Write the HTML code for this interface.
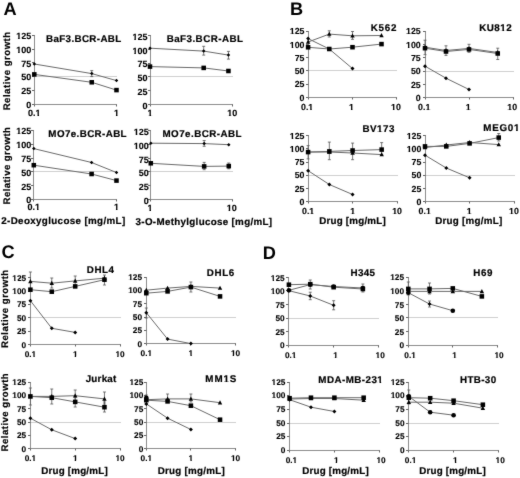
<!DOCTYPE html>
<html><head><meta charset="utf-8"><style>
html,body{margin:0;padding:0;background:#fff;}
body{width:520px;height:478px;overflow:hidden;}
svg{display:block;font-family:"Liberation Sans", sans-serif;will-change:transform;text-rendering:geometricPrecision;}
</style></head><body>
<svg width="520" height="478" viewBox="0 0 520 478">
<defs><filter id="bl" color-interpolation-filters="sRGB" x="0" y="0" width="520" height="478" filterUnits="userSpaceOnUse"><feConvolveMatrix order="3" kernelMatrix="0.015 0.06 0.015 0.06 0.70 0.06 0.015 0.06 0.015" divisor="1" edgeMode="duplicate"/></filter></defs>
<rect width="520" height="478" fill="#fff"/>
<g filter="url(#bl)">
<rect width="520" height="478" fill="#fff"/>
<line x1="34.50" y1="76.50" x2="117.00" y2="76.50" stroke="#cfcfcf" stroke-width="1"/>
<path d="M34.50 35.00V104.50H117.00" fill="none" stroke="#8c8c8c" stroke-width="1"/>
<line x1="32.00" y1="104.50" x2="34.50" y2="104.50" stroke="#666" stroke-width="1"/>
<text x="26.19" y="108.04" font-size="9.0" font-weight="bold" fill="#000" stroke="#000" stroke-width="0.12">0</text>
<line x1="32.00" y1="90.50" x2="34.50" y2="90.50" stroke="#666" stroke-width="1"/>
<text x="21.19 26.19" y="94.24" font-size="9.0" font-weight="bold" fill="#000" stroke="#000" stroke-width="0.12">25</text>
<line x1="32.00" y1="76.50" x2="34.50" y2="76.50" stroke="#666" stroke-width="1"/>
<text x="21.19 26.19" y="80.44" font-size="9.0" font-weight="bold" fill="#000" stroke="#000" stroke-width="0.12">50</text>
<line x1="32.00" y1="62.50" x2="34.50" y2="62.50" stroke="#666" stroke-width="1"/>
<text x="21.19 26.19" y="66.64" font-size="9.0" font-weight="bold" fill="#000" stroke="#000" stroke-width="0.12">75</text>
<line x1="32.00" y1="49.50" x2="34.50" y2="49.50" stroke="#666" stroke-width="1"/>
<text x="16.18 21.19 26.19" y="52.84" font-size="9.0" font-weight="bold" fill="#000" stroke="#000" stroke-width="0.12">100</text>
<line x1="32.00" y1="35.50" x2="34.50" y2="35.50" stroke="#666" stroke-width="1"/>
<text x="16.18 21.19 26.19" y="39.04" font-size="9.0" font-weight="bold" fill="#000" stroke="#000" stroke-width="0.12">125</text>
<line x1="34.50" y1="104.50" x2="34.50" y2="106.50" stroke="#666" stroke-width="1"/>
<text x="28.04 33.05 35.55" y="115.80" font-size="9.0" font-weight="bold" fill="#000" stroke="#000" stroke-width="0.12">0.1</text>
<line x1="116.50" y1="104.50" x2="116.50" y2="106.50" stroke="#666" stroke-width="1"/>
<text x="114.00" y="115.80" font-size="9.0" font-weight="bold" fill="#000" stroke="#000" stroke-width="0.12">1</text>
<path d="M34.30 64.00L91.76 73.60L116.50 80.60" fill="none" stroke="#6a6a6a" stroke-width="1"/>
<path d="M34.30 74.40L91.76 82.30L116.50 90.10" fill="none" stroke="#6a6a6a" stroke-width="1"/>
<path d="M91.76 70.60V76.60M90.26 70.60H93.26M90.26 76.60H93.26" fill="none" stroke="#555" stroke-width="0.8"/>
<path d="M34.30 62.24L36.06 64.00L34.30 65.76L32.54 64.00Z" fill="#000"/>
<path d="M91.76 71.84L93.52 73.60L91.76 75.36L90.00 73.60Z" fill="#000"/>
<path d="M116.50 78.84L118.26 80.60L116.50 82.36L114.74 80.60Z" fill="#000"/>
<rect x="32.03" y="72.13" width="4.53" height="4.53" fill="#000"/>
<rect x="89.49" y="80.03" width="4.53" height="4.53" fill="#000"/>
<rect x="114.23" y="87.83" width="4.53" height="4.53" fill="#000"/>
<text x="45.94 53.39 59.21 65.56 71.38 74.47 81.91 89.35 96.80 100.43 107.87 115.32" y="41.70" font-size="9.8" font-weight="bold" fill="#000" stroke="#000" stroke-width="0.2">BaF3.BCR-ABL</text>
<line x1="150.50" y1="76.50" x2="233.00" y2="76.50" stroke="#cfcfcf" stroke-width="1"/>
<path d="M150.50 35.00V104.50H233.00" fill="none" stroke="#8c8c8c" stroke-width="1"/>
<line x1="148.00" y1="104.50" x2="150.50" y2="104.50" stroke="#666" stroke-width="1"/>
<text x="142.39" y="108.84" font-size="9.0" font-weight="bold" fill="#000" stroke="#000" stroke-width="0.12">0</text>
<line x1="148.00" y1="90.50" x2="150.50" y2="90.50" stroke="#666" stroke-width="1"/>
<text x="137.39 142.39" y="95.04" font-size="9.0" font-weight="bold" fill="#000" stroke="#000" stroke-width="0.12">25</text>
<line x1="148.00" y1="76.50" x2="150.50" y2="76.50" stroke="#666" stroke-width="1"/>
<text x="137.39 142.39" y="81.24" font-size="9.0" font-weight="bold" fill="#000" stroke="#000" stroke-width="0.12">50</text>
<line x1="148.00" y1="63.50" x2="150.50" y2="63.50" stroke="#666" stroke-width="1"/>
<text x="137.39 142.39" y="67.44" font-size="9.0" font-weight="bold" fill="#000" stroke="#000" stroke-width="0.12">75</text>
<line x1="148.00" y1="49.50" x2="150.50" y2="49.50" stroke="#666" stroke-width="1"/>
<text x="132.38 137.39 142.39" y="53.64" font-size="9.0" font-weight="bold" fill="#000" stroke="#000" stroke-width="0.12">100</text>
<line x1="148.00" y1="35.50" x2="150.50" y2="35.50" stroke="#666" stroke-width="1"/>
<text x="132.38 137.39 142.39" y="39.84" font-size="9.0" font-weight="bold" fill="#000" stroke="#000" stroke-width="0.12">125</text>
<line x1="150.50" y1="104.50" x2="150.50" y2="106.50" stroke="#666" stroke-width="1"/>
<text x="147.50" y="116.10" font-size="9.0" font-weight="bold" fill="#000" stroke="#000" stroke-width="0.12">1</text>
<line x1="232.50" y1="104.50" x2="232.50" y2="106.50" stroke="#666" stroke-width="1"/>
<text x="227.19 232.20" y="116.10" font-size="9.0" font-weight="bold" fill="#000" stroke="#000" stroke-width="0.12">10</text>
<path d="M150.00 48.20L203.69 51.10L228.44 55.10" fill="none" stroke="#6a6a6a" stroke-width="1"/>
<path d="M150.00 66.60L203.69 67.90L228.44 71.00" fill="none" stroke="#6a6a6a" stroke-width="1"/>
<path d="M203.69 46.30V55.10M202.19 46.30H205.19M202.19 55.10H205.19" fill="none" stroke="#555" stroke-width="0.8"/>
<path d="M228.44 51.40V59.10M226.94 51.40H229.94M226.94 59.10H229.94" fill="none" stroke="#555" stroke-width="0.8"/>
<path d="M150.00 46.44L151.76 48.20L150.00 49.96L148.24 48.20Z" fill="#000"/>
<path d="M203.69 49.34L205.45 51.10L203.69 52.86L201.93 51.10Z" fill="#000"/>
<path d="M228.44 53.34L230.20 55.10L228.44 56.86L226.68 55.10Z" fill="#000"/>
<rect x="147.73" y="64.33" width="4.53" height="4.53" fill="#000"/>
<rect x="201.43" y="65.63" width="4.53" height="4.53" fill="#000"/>
<rect x="226.17" y="68.73" width="4.53" height="4.53" fill="#000"/>
<text x="166.64 174.18 180.09 186.53 192.44 195.62 203.15 210.69 218.22 221.95 229.48 237.02" y="41.80" font-size="9.8" font-weight="bold" fill="#000" stroke="#000" stroke-width="0.2">BaF3.BCR-ABL</text>
<line x1="33.50" y1="171.50" x2="117.00" y2="171.50" stroke="#cfcfcf" stroke-width="1"/>
<path d="M33.50 130.00V199.50H117.00" fill="none" stroke="#8c8c8c" stroke-width="1"/>
<line x1="31.00" y1="199.50" x2="33.50" y2="199.50" stroke="#666" stroke-width="1"/>
<text x="26.19" y="203.34" font-size="9.0" font-weight="bold" fill="#000" stroke="#000" stroke-width="0.12">0</text>
<line x1="31.00" y1="185.50" x2="33.50" y2="185.50" stroke="#666" stroke-width="1"/>
<text x="21.19 26.19" y="189.52" font-size="9.0" font-weight="bold" fill="#000" stroke="#000" stroke-width="0.12">25</text>
<line x1="31.00" y1="171.50" x2="33.50" y2="171.50" stroke="#666" stroke-width="1"/>
<text x="21.19 26.19" y="175.70" font-size="9.0" font-weight="bold" fill="#000" stroke="#000" stroke-width="0.12">50</text>
<line x1="31.00" y1="158.50" x2="33.50" y2="158.50" stroke="#666" stroke-width="1"/>
<text x="21.19 26.19" y="161.88" font-size="9.0" font-weight="bold" fill="#000" stroke="#000" stroke-width="0.12">75</text>
<line x1="31.00" y1="144.50" x2="33.50" y2="144.50" stroke="#666" stroke-width="1"/>
<text x="16.18 21.19 26.19" y="148.06" font-size="9.0" font-weight="bold" fill="#000" stroke="#000" stroke-width="0.12">100</text>
<line x1="31.00" y1="130.50" x2="33.50" y2="130.50" stroke="#666" stroke-width="1"/>
<text x="16.18 21.19 26.19" y="134.24" font-size="9.0" font-weight="bold" fill="#000" stroke="#000" stroke-width="0.12">125</text>
<line x1="33.50" y1="199.50" x2="33.50" y2="201.50" stroke="#666" stroke-width="1"/>
<text x="27.54 32.55 35.05" y="209.80" font-size="9.0" font-weight="bold" fill="#000" stroke="#000" stroke-width="0.12">0.1</text>
<line x1="116.50" y1="199.50" x2="116.50" y2="201.50" stroke="#666" stroke-width="1"/>
<text x="114.00" y="209.80" font-size="9.0" font-weight="bold" fill="#000" stroke="#000" stroke-width="0.12">1</text>
<path d="M33.80 148.60L91.60 162.50L116.50 172.50" fill="none" stroke="#6a6a6a" stroke-width="1"/>
<path d="M33.80 165.20L91.60 174.00L116.50 180.60" fill="none" stroke="#6a6a6a" stroke-width="1"/>
<path d="M33.80 146.84L35.56 148.60L33.80 150.36L32.04 148.60Z" fill="#000"/>
<path d="M91.60 160.74L93.36 162.50L91.60 164.26L89.84 162.50Z" fill="#000"/>
<path d="M116.50 170.74L118.26 172.50L116.50 174.26L114.74 172.50Z" fill="#000"/>
<rect x="31.53" y="162.93" width="4.53" height="4.53" fill="#000"/>
<rect x="89.34" y="171.73" width="4.53" height="4.53" fill="#000"/>
<rect x="114.23" y="178.33" width="4.53" height="4.53" fill="#000"/>
<text x="48.34 56.89 64.90 70.73 76.56 79.67 87.13 94.59 102.05 105.70 113.16 120.62" y="136.90" font-size="9.8" font-weight="bold" fill="#000" stroke="#000" stroke-width="0.2">MO7e.BCR-ABL</text>
<line x1="150.50" y1="171.50" x2="233.00" y2="171.50" stroke="#cfcfcf" stroke-width="1"/>
<path d="M150.50 130.00V199.50H233.00" fill="none" stroke="#8c8c8c" stroke-width="1"/>
<line x1="148.00" y1="199.50" x2="150.50" y2="199.50" stroke="#666" stroke-width="1"/>
<text x="143.79" y="204.14" font-size="9.0" font-weight="bold" fill="#000" stroke="#000" stroke-width="0.12">0</text>
<line x1="148.00" y1="185.50" x2="150.50" y2="185.50" stroke="#666" stroke-width="1"/>
<text x="138.79 143.79" y="190.30" font-size="9.0" font-weight="bold" fill="#000" stroke="#000" stroke-width="0.12">25</text>
<line x1="148.00" y1="171.50" x2="150.50" y2="171.50" stroke="#666" stroke-width="1"/>
<text x="138.79 143.79" y="176.46" font-size="9.0" font-weight="bold" fill="#000" stroke="#000" stroke-width="0.12">50</text>
<line x1="148.00" y1="158.50" x2="150.50" y2="158.50" stroke="#666" stroke-width="1"/>
<text x="138.79 143.79" y="162.62" font-size="9.0" font-weight="bold" fill="#000" stroke="#000" stroke-width="0.12">75</text>
<line x1="148.00" y1="144.50" x2="150.50" y2="144.50" stroke="#666" stroke-width="1"/>
<text x="133.78 138.79 143.79" y="148.78" font-size="9.0" font-weight="bold" fill="#000" stroke="#000" stroke-width="0.12">100</text>
<line x1="148.00" y1="130.50" x2="150.50" y2="130.50" stroke="#666" stroke-width="1"/>
<text x="133.78 138.79 143.79" y="134.94" font-size="9.0" font-weight="bold" fill="#000" stroke="#000" stroke-width="0.12">125</text>
<line x1="150.50" y1="199.50" x2="150.50" y2="201.50" stroke="#666" stroke-width="1"/>
<text x="147.50" y="210.60" font-size="9.0" font-weight="bold" fill="#000" stroke="#000" stroke-width="0.12">1</text>
<line x1="232.50" y1="199.50" x2="232.50" y2="201.50" stroke="#666" stroke-width="1"/>
<text x="226.69 231.70" y="210.60" font-size="9.0" font-weight="bold" fill="#000" stroke="#000" stroke-width="0.12">10</text>
<path d="M150.80 143.20L204.17 143.60L228.76 144.70" fill="none" stroke="#6a6a6a" stroke-width="1"/>
<path d="M150.80 163.30L204.17 166.40L228.76 166.10" fill="none" stroke="#6a6a6a" stroke-width="1"/>
<path d="M204.17 140.50V146.30M202.67 140.50H205.67M202.67 146.30H205.67" fill="none" stroke="#555" stroke-width="0.8"/>
<path d="M204.17 162.40V169.70M202.67 162.40H205.67M202.67 169.70H205.67" fill="none" stroke="#555" stroke-width="0.8"/>
<path d="M228.76 163.00V168.80M227.26 163.00H230.26M227.26 168.80H230.26" fill="none" stroke="#555" stroke-width="0.8"/>
<path d="M150.80 141.44L152.56 143.20L150.80 144.96L149.04 143.20Z" fill="#000"/>
<path d="M204.17 141.84L205.93 143.60L204.17 145.36L202.41 143.60Z" fill="#000"/>
<path d="M228.76 142.94L230.52 144.70L228.76 146.46L227.00 144.70Z" fill="#000"/>
<rect x="148.53" y="161.03" width="4.53" height="4.53" fill="#000"/>
<rect x="201.90" y="164.13" width="4.53" height="4.53" fill="#000"/>
<rect x="226.50" y="163.83" width="4.53" height="4.53" fill="#000"/>
<text x="162.44 171.06 179.14 185.05 190.95 194.13 201.66 209.20 216.73 220.45 227.98 235.52" y="137.10" font-size="9.8" font-weight="bold" fill="#000" stroke="#000" stroke-width="0.2">MO7e.BCR-ABL</text>
<line x1="308.50" y1="70.50" x2="397.00" y2="70.50" stroke="#cfcfcf" stroke-width="1"/>
<path d="M308.50 31.00V97.50H397.00" fill="none" stroke="#8c8c8c" stroke-width="1"/>
<line x1="306.00" y1="97.50" x2="308.50" y2="97.50" stroke="#666" stroke-width="1"/>
<text x="299.61" y="100.67" font-size="8.8" font-weight="bold" fill="#000" stroke="#000" stroke-width="0.12">0</text>
<line x1="306.00" y1="84.50" x2="308.50" y2="84.50" stroke="#666" stroke-width="1"/>
<text x="294.71 299.61" y="87.39" font-size="8.8" font-weight="bold" fill="#000" stroke="#000" stroke-width="0.12">25</text>
<line x1="306.00" y1="70.50" x2="308.50" y2="70.50" stroke="#666" stroke-width="1"/>
<text x="294.71 299.61" y="74.11" font-size="8.8" font-weight="bold" fill="#000" stroke="#000" stroke-width="0.12">50</text>
<line x1="306.00" y1="57.50" x2="308.50" y2="57.50" stroke="#666" stroke-width="1"/>
<text x="294.71 299.61" y="60.83" font-size="8.8" font-weight="bold" fill="#000" stroke="#000" stroke-width="0.12">75</text>
<line x1="306.00" y1="44.50" x2="308.50" y2="44.50" stroke="#666" stroke-width="1"/>
<text x="289.82 294.71 299.61" y="47.55" font-size="8.8" font-weight="bold" fill="#000" stroke="#000" stroke-width="0.12">100</text>
<line x1="306.00" y1="31.50" x2="308.50" y2="31.50" stroke="#666" stroke-width="1"/>
<text x="289.82 294.71 299.61" y="34.27" font-size="8.8" font-weight="bold" fill="#000" stroke="#000" stroke-width="0.12">125</text>
<line x1="308.50" y1="97.50" x2="308.50" y2="99.50" stroke="#666" stroke-width="1"/>
<text x="300.98 305.88 308.32" y="109.90" font-size="8.8" font-weight="bold" fill="#000" stroke="#000" stroke-width="0.12">0.1</text>
<line x1="352.50" y1="97.50" x2="352.50" y2="99.50" stroke="#666" stroke-width="1"/>
<text x="349.05" y="109.90" font-size="8.8" font-weight="bold" fill="#000" stroke="#000" stroke-width="0.12">1</text>
<line x1="396.50" y1="97.50" x2="396.50" y2="99.50" stroke="#666" stroke-width="1"/>
<text x="391.01 395.90" y="109.90" font-size="8.8" font-weight="bold" fill="#000" stroke="#000" stroke-width="0.12">10</text>
<path d="M308.10 38.60L329.28 49.00L352.50 68.60" fill="none" stroke="#6a6a6a" stroke-width="1"/>
<path d="M308.10 42.00L329.28 34.10L352.50 35.80L381.50 35.50" fill="none" stroke="#6a6a6a" stroke-width="1"/>
<path d="M308.10 47.30L329.28 49.00L352.50 47.20L381.50 44.10" fill="none" stroke="#6a6a6a" stroke-width="1"/>
<path d="M329.28 30.80V37.00M327.78 30.80H330.78M327.78 37.00H330.78" fill="none" stroke="#555" stroke-width="0.8"/>
<path d="M352.50 31.50V39.30M351.00 31.50H354.00M351.00 39.30H354.00" fill="none" stroke="#555" stroke-width="0.8"/>
<path d="M308.10 36.62L310.08 38.60L308.10 40.58L306.12 38.60Z" fill="#000"/>
<path d="M329.28 47.02L331.26 49.00L329.28 50.98L327.30 49.00Z" fill="#000"/>
<path d="M352.50 66.62L354.48 68.60L352.50 70.58L350.52 68.60Z" fill="#000"/>
<path d="M308.10 39.58L310.30 43.76L305.90 43.76Z" fill="#000"/>
<path d="M329.28 31.68L331.48 35.86L327.08 35.86Z" fill="#000"/>
<path d="M352.50 33.38L354.70 37.56L350.30 37.56Z" fill="#000"/>
<path d="M381.50 33.08L383.70 37.26L379.30 37.26Z" fill="#000"/>
<rect x="305.83" y="45.03" width="4.53" height="4.53" fill="#000"/>
<rect x="327.02" y="46.73" width="4.53" height="4.53" fill="#000"/>
<rect x="350.23" y="44.93" width="4.53" height="4.53" fill="#000"/>
<rect x="379.24" y="41.83" width="4.53" height="4.53" fill="#000"/>
<text x="370.64 378.49 384.72 390.94" y="31.10" font-size="9.8" font-weight="bold" fill="#000" stroke="#000" stroke-width="0.2">K562</text>
<line x1="425.50" y1="71.50" x2="514.00" y2="71.50" stroke="#cfcfcf" stroke-width="1"/>
<path d="M425.50 31.00V97.50H514.00" fill="none" stroke="#8c8c8c" stroke-width="1"/>
<line x1="423.00" y1="97.50" x2="425.50" y2="97.50" stroke="#666" stroke-width="1"/>
<text x="415.81" y="101.07" font-size="8.8" font-weight="bold" fill="#000" stroke="#000" stroke-width="0.12">0</text>
<line x1="423.00" y1="84.50" x2="425.50" y2="84.50" stroke="#666" stroke-width="1"/>
<text x="410.91 415.81" y="87.75" font-size="8.8" font-weight="bold" fill="#000" stroke="#000" stroke-width="0.12">25</text>
<line x1="423.00" y1="71.50" x2="425.50" y2="71.50" stroke="#666" stroke-width="1"/>
<text x="410.91 415.81" y="74.43" font-size="8.8" font-weight="bold" fill="#000" stroke="#000" stroke-width="0.12">50</text>
<line x1="423.00" y1="57.50" x2="425.50" y2="57.50" stroke="#666" stroke-width="1"/>
<text x="410.91 415.81" y="61.11" font-size="8.8" font-weight="bold" fill="#000" stroke="#000" stroke-width="0.12">75</text>
<line x1="423.00" y1="44.50" x2="425.50" y2="44.50" stroke="#666" stroke-width="1"/>
<text x="406.02 410.91 415.81" y="47.79" font-size="8.8" font-weight="bold" fill="#000" stroke="#000" stroke-width="0.12">100</text>
<line x1="423.00" y1="31.50" x2="425.50" y2="31.50" stroke="#666" stroke-width="1"/>
<text x="406.02 410.91 415.81" y="34.47" font-size="8.8" font-weight="bold" fill="#000" stroke="#000" stroke-width="0.12">125</text>
<line x1="425.50" y1="97.50" x2="425.50" y2="99.50" stroke="#666" stroke-width="1"/>
<text x="418.08 422.98 425.42" y="110.30" font-size="8.8" font-weight="bold" fill="#000" stroke="#000" stroke-width="0.12">0.1</text>
<line x1="469.50" y1="97.50" x2="469.50" y2="99.50" stroke="#666" stroke-width="1"/>
<text x="465.75" y="110.30" font-size="8.8" font-weight="bold" fill="#000" stroke="#000" stroke-width="0.12">1</text>
<line x1="513.50" y1="97.50" x2="513.50" y2="99.50" stroke="#666" stroke-width="1"/>
<text x="507.31 512.20" y="110.30" font-size="8.8" font-weight="bold" fill="#000" stroke="#000" stroke-width="0.12">10</text>
<path d="M425.00 66.20L445.99 78.20L469.00 89.50" fill="none" stroke="#6a6a6a" stroke-width="1"/>
<path d="M425.00 47.20L445.99 50.50L469.00 48.40L497.74 52.50" fill="none" stroke="#6a6a6a" stroke-width="1"/>
<path d="M425.00 48.20L445.99 51.50L469.00 49.40L497.74 53.50" fill="none" stroke="#6a6a6a" stroke-width="1"/>
<path d="M425.00 40.20V54.70M423.50 40.20H426.50M423.50 54.70H426.50" fill="none" stroke="#555" stroke-width="0.8"/>
<path d="M445.99 45.80V55.40M444.49 45.80H447.49M444.49 55.40H447.49" fill="none" stroke="#555" stroke-width="0.8"/>
<path d="M469.00 44.30V52.30M467.50 44.30H470.50M467.50 52.30H470.50" fill="none" stroke="#555" stroke-width="0.8"/>
<path d="M497.74 48.20V59.50M496.24 48.20H499.24M496.24 59.50H499.24" fill="none" stroke="#555" stroke-width="0.8"/>
<path d="M425.00 64.22L426.98 66.20L425.00 68.18L423.02 66.20Z" fill="#000"/>
<path d="M445.99 76.22L447.97 78.20L445.99 80.18L444.01 78.20Z" fill="#000"/>
<path d="M469.00 87.52L470.98 89.50L469.00 91.48L467.02 89.50Z" fill="#000"/>
<path d="M425.00 44.78L427.20 48.96L422.80 48.96Z" fill="#000"/>
<path d="M445.99 48.08L448.19 52.26L443.79 52.26Z" fill="#000"/>
<path d="M469.00 45.98L471.20 50.16L466.80 50.16Z" fill="#000"/>
<path d="M497.74 50.08L499.94 54.26L495.54 54.26Z" fill="#000"/>
<rect x="422.73" y="45.93" width="4.53" height="4.53" fill="#000"/>
<rect x="443.73" y="49.23" width="4.53" height="4.53" fill="#000"/>
<rect x="466.73" y="47.13" width="4.53" height="4.53" fill="#000"/>
<rect x="495.48" y="51.23" width="4.53" height="4.53" fill="#000"/>
<text x="479.34 486.86 494.37 500.26 506.14" y="31.20" font-size="9.8" font-weight="bold" fill="#000" stroke="#000" stroke-width="0.2">KU812</text>
<line x1="308.50" y1="175.50" x2="398.00" y2="175.50" stroke="#cfcfcf" stroke-width="1"/>
<path d="M308.50 135.00V201.50H398.00" fill="none" stroke="#8c8c8c" stroke-width="1"/>
<line x1="306.00" y1="201.50" x2="308.50" y2="201.50" stroke="#666" stroke-width="1"/>
<text x="299.61" y="204.97" font-size="8.8" font-weight="bold" fill="#000" stroke="#000" stroke-width="0.12">0</text>
<line x1="306.00" y1="188.50" x2="308.50" y2="188.50" stroke="#666" stroke-width="1"/>
<text x="294.71 299.61" y="191.73" font-size="8.8" font-weight="bold" fill="#000" stroke="#000" stroke-width="0.12">25</text>
<line x1="306.00" y1="175.50" x2="308.50" y2="175.50" stroke="#666" stroke-width="1"/>
<text x="294.71 299.61" y="178.49" font-size="8.8" font-weight="bold" fill="#000" stroke="#000" stroke-width="0.12">50</text>
<line x1="306.00" y1="162.50" x2="308.50" y2="162.50" stroke="#666" stroke-width="1"/>
<text x="294.71 299.61" y="165.25" font-size="8.8" font-weight="bold" fill="#000" stroke="#000" stroke-width="0.12">75</text>
<line x1="306.00" y1="148.50" x2="308.50" y2="148.50" stroke="#666" stroke-width="1"/>
<text x="289.82 294.71 299.61" y="152.01" font-size="8.8" font-weight="bold" fill="#000" stroke="#000" stroke-width="0.12">100</text>
<line x1="306.00" y1="135.50" x2="308.50" y2="135.50" stroke="#666" stroke-width="1"/>
<text x="289.82 294.71 299.61" y="138.77" font-size="8.8" font-weight="bold" fill="#000" stroke="#000" stroke-width="0.12">125</text>
<line x1="308.50" y1="201.50" x2="308.50" y2="203.50" stroke="#666" stroke-width="1"/>
<text x="301.98 306.88 309.32" y="214.20" font-size="8.8" font-weight="bold" fill="#000" stroke="#000" stroke-width="0.12">0.1</text>
<line x1="352.50" y1="201.50" x2="352.50" y2="203.50" stroke="#666" stroke-width="1"/>
<text x="350.15" y="214.20" font-size="8.8" font-weight="bold" fill="#000" stroke="#000" stroke-width="0.12">1</text>
<line x1="397.50" y1="201.50" x2="397.50" y2="203.50" stroke="#666" stroke-width="1"/>
<text x="392.21 397.10" y="214.20" font-size="8.8" font-weight="bold" fill="#000" stroke="#000" stroke-width="0.12">10</text>
<path d="M308.10 170.70L329.33 184.50L352.60 194.50" fill="none" stroke="#6a6a6a" stroke-width="1"/>
<path d="M308.10 152.00L329.33 152.00L352.60 153.00L381.67 154.60" fill="none" stroke="#6a6a6a" stroke-width="1"/>
<path d="M308.10 152.10L329.33 151.40L352.60 150.50L381.67 149.60" fill="none" stroke="#6a6a6a" stroke-width="1"/>
<path d="M308.10 145.60V158.90M306.60 145.60H309.60M306.60 158.90H309.60" fill="none" stroke="#555" stroke-width="0.8"/>
<path d="M329.33 142.10V159.70M327.83 142.10H330.83M327.83 159.70H330.83" fill="none" stroke="#555" stroke-width="0.8"/>
<path d="M352.60 143.10V159.70M351.10 143.10H354.10M351.10 159.70H354.10" fill="none" stroke="#555" stroke-width="0.8"/>
<path d="M381.67 142.60V154.60M380.17 142.60H383.17M380.17 154.60H383.17" fill="none" stroke="#555" stroke-width="0.8"/>
<path d="M308.10 168.72L310.08 170.70L308.10 172.68L306.12 170.70Z" fill="#000"/>
<path d="M329.33 182.52L331.31 184.50L329.33 186.48L327.35 184.50Z" fill="#000"/>
<path d="M352.60 192.52L354.58 194.50L352.60 196.48L350.62 194.50Z" fill="#000"/>
<path d="M308.10 149.58L310.30 153.76L305.90 153.76Z" fill="#000"/>
<path d="M329.33 149.58L331.53 153.76L327.13 153.76Z" fill="#000"/>
<path d="M352.60 150.58L354.80 154.76L350.40 154.76Z" fill="#000"/>
<path d="M381.67 152.18L383.87 156.36L379.47 156.36Z" fill="#000"/>
<rect x="305.83" y="149.83" width="4.53" height="4.53" fill="#000"/>
<rect x="327.07" y="149.13" width="4.53" height="4.53" fill="#000"/>
<rect x="350.33" y="148.23" width="4.53" height="4.53" fill="#000"/>
<rect x="379.40" y="147.33" width="4.53" height="4.53" fill="#000"/>
<text x="362.54 370.08 377.08 382.99 388.90" y="132.40" font-size="9.8" font-weight="bold" fill="#000" stroke="#000" stroke-width="0.2">BV173</text>
<line x1="425.50" y1="175.50" x2="515.00" y2="175.50" stroke="#cfcfcf" stroke-width="1"/>
<path d="M425.50 135.00V201.50H515.00" fill="none" stroke="#8c8c8c" stroke-width="1"/>
<line x1="423.00" y1="201.50" x2="425.50" y2="201.50" stroke="#666" stroke-width="1"/>
<text x="416.51" y="204.97" font-size="8.8" font-weight="bold" fill="#000" stroke="#000" stroke-width="0.12">0</text>
<line x1="423.00" y1="188.50" x2="425.50" y2="188.50" stroke="#666" stroke-width="1"/>
<text x="411.61 416.51" y="191.73" font-size="8.8" font-weight="bold" fill="#000" stroke="#000" stroke-width="0.12">25</text>
<line x1="423.00" y1="175.50" x2="425.50" y2="175.50" stroke="#666" stroke-width="1"/>
<text x="411.61 416.51" y="178.49" font-size="8.8" font-weight="bold" fill="#000" stroke="#000" stroke-width="0.12">50</text>
<line x1="423.00" y1="162.50" x2="425.50" y2="162.50" stroke="#666" stroke-width="1"/>
<text x="411.61 416.51" y="165.25" font-size="8.8" font-weight="bold" fill="#000" stroke="#000" stroke-width="0.12">75</text>
<line x1="423.00" y1="148.50" x2="425.50" y2="148.50" stroke="#666" stroke-width="1"/>
<text x="406.72 411.61 416.51" y="152.01" font-size="8.8" font-weight="bold" fill="#000" stroke="#000" stroke-width="0.12">100</text>
<line x1="423.00" y1="135.50" x2="425.50" y2="135.50" stroke="#666" stroke-width="1"/>
<text x="406.72 411.61 416.51" y="138.77" font-size="8.8" font-weight="bold" fill="#000" stroke="#000" stroke-width="0.12">125</text>
<line x1="425.50" y1="201.50" x2="425.50" y2="203.50" stroke="#666" stroke-width="1"/>
<text x="418.58 423.48 425.92" y="214.20" font-size="8.8" font-weight="bold" fill="#000" stroke="#000" stroke-width="0.12">0.1</text>
<line x1="469.50" y1="201.50" x2="469.50" y2="203.50" stroke="#666" stroke-width="1"/>
<text x="466.85" y="214.20" font-size="8.8" font-weight="bold" fill="#000" stroke="#000" stroke-width="0.12">1</text>
<line x1="514.50" y1="201.50" x2="514.50" y2="203.50" stroke="#666" stroke-width="1"/>
<text x="509.01 513.90" y="214.20" font-size="8.8" font-weight="bold" fill="#000" stroke="#000" stroke-width="0.12">10</text>
<path d="M425.00 155.20L446.28 168.00L469.60 177.80" fill="none" stroke="#6a6a6a" stroke-width="1"/>
<path d="M425.00 147.60L446.28 145.00L469.60 142.50L498.73 144.60" fill="none" stroke="#6a6a6a" stroke-width="1"/>
<path d="M425.00 146.40L446.28 146.40L469.60 143.40L498.73 137.60" fill="none" stroke="#6a6a6a" stroke-width="1"/>
<path d="M498.73 133.50V141.00M497.23 133.50H500.23M497.23 141.00H500.23" fill="none" stroke="#555" stroke-width="0.8"/>
<path d="M425.00 153.22L426.98 155.20L425.00 157.18L423.02 155.20Z" fill="#000"/>
<path d="M446.28 166.02L448.26 168.00L446.28 169.98L444.30 168.00Z" fill="#000"/>
<path d="M469.60 175.82L471.58 177.80L469.60 179.78L467.62 177.80Z" fill="#000"/>
<path d="M425.00 145.18L427.20 149.36L422.80 149.36Z" fill="#000"/>
<path d="M446.28 142.58L448.48 146.76L444.08 146.76Z" fill="#000"/>
<path d="M469.60 140.08L471.80 144.26L467.40 144.26Z" fill="#000"/>
<path d="M498.73 142.18L500.93 146.36L496.53 146.36Z" fill="#000"/>
<rect x="422.73" y="144.13" width="4.53" height="4.53" fill="#000"/>
<rect x="444.01" y="144.13" width="4.53" height="4.53" fill="#000"/>
<rect x="467.33" y="141.13" width="4.53" height="4.53" fill="#000"/>
<rect x="496.47" y="135.33" width="4.53" height="4.53" fill="#000"/>
<text x="483.24 492.15 499.42 507.78 513.97" y="131.00" font-size="9.8" font-weight="bold" fill="#000" stroke="#000" stroke-width="0.2">MEG01</text>
<line x1="30.50" y1="317.50" x2="121.00" y2="317.50" stroke="#cfcfcf" stroke-width="1"/>
<path d="M30.50 277.00V344.50H121.00" fill="none" stroke="#8c8c8c" stroke-width="1"/>
<line x1="28.00" y1="344.50" x2="30.50" y2="344.50" stroke="#666" stroke-width="1"/>
<text x="21.58" y="347.59" font-size="8.3" font-weight="bold" fill="#000" stroke="#000" stroke-width="0.12">0</text>
<line x1="28.00" y1="331.50" x2="30.50" y2="331.50" stroke="#666" stroke-width="1"/>
<text x="16.97 21.58" y="334.21" font-size="8.3" font-weight="bold" fill="#000" stroke="#000" stroke-width="0.12">25</text>
<line x1="28.00" y1="317.50" x2="30.50" y2="317.50" stroke="#666" stroke-width="1"/>
<text x="16.97 21.58" y="320.83" font-size="8.3" font-weight="bold" fill="#000" stroke="#000" stroke-width="0.12">50</text>
<line x1="28.00" y1="304.50" x2="30.50" y2="304.50" stroke="#666" stroke-width="1"/>
<text x="16.97 21.58" y="307.45" font-size="8.3" font-weight="bold" fill="#000" stroke="#000" stroke-width="0.12">75</text>
<line x1="28.00" y1="291.50" x2="30.50" y2="291.50" stroke="#666" stroke-width="1"/>
<text x="12.35 16.97 21.58" y="294.07" font-size="8.3" font-weight="bold" fill="#000" stroke="#000" stroke-width="0.12">100</text>
<line x1="28.00" y1="277.50" x2="30.50" y2="277.50" stroke="#666" stroke-width="1"/>
<text x="12.35 16.97 21.58" y="280.69" font-size="8.3" font-weight="bold" fill="#000" stroke="#000" stroke-width="0.12">125</text>
<line x1="30.50" y1="344.50" x2="30.50" y2="346.50" stroke="#666" stroke-width="1"/>
<text x="24.63 29.25 31.55" y="356.80" font-size="8.3" font-weight="bold" fill="#000" stroke="#000" stroke-width="0.12">0.1</text>
<line x1="75.50" y1="344.50" x2="75.50" y2="346.50" stroke="#666" stroke-width="1"/>
<text x="72.89" y="356.80" font-size="8.3" font-weight="bold" fill="#000" stroke="#000" stroke-width="0.12">1</text>
<line x1="120.50" y1="344.50" x2="120.50" y2="346.50" stroke="#666" stroke-width="1"/>
<text x="115.38 120.00" y="356.80" font-size="8.3" font-weight="bold" fill="#000" stroke="#000" stroke-width="0.12">10</text>
<path d="M30.40 300.70L51.78 328.30L75.20 332.40" fill="none" stroke="#6a6a6a" stroke-width="1"/>
<path d="M30.40 281.40L51.78 283.20L75.20 280.90L104.46 278.20" fill="none" stroke="#6a6a6a" stroke-width="1"/>
<path d="M30.40 289.70L51.78 291.70L75.20 286.40L104.46 279.70" fill="none" stroke="#6a6a6a" stroke-width="1"/>
<path d="M30.40 272.00V290.00M28.90 272.00H31.90M28.90 290.00H31.90" fill="none" stroke="#555" stroke-width="0.8"/>
<path d="M51.78 278.00V288.00M50.28 278.00H53.28M50.28 288.00H53.28" fill="none" stroke="#555" stroke-width="0.8"/>
<path d="M75.20 276.00V286.00M73.70 276.00H76.70M73.70 286.00H76.70" fill="none" stroke="#555" stroke-width="0.8"/>
<path d="M104.46 275.00V285.00M102.96 275.00H105.96M102.96 285.00H105.96" fill="none" stroke="#555" stroke-width="0.8"/>
<path d="M30.40 298.72L32.38 300.70L30.40 302.68L28.42 300.70Z" fill="#000"/>
<path d="M51.78 326.32L53.76 328.30L51.78 330.28L49.80 328.30Z" fill="#000"/>
<path d="M75.20 330.42L77.18 332.40L75.20 334.38L73.22 332.40Z" fill="#000"/>
<path d="M30.40 278.98L32.60 283.16L28.20 283.16Z" fill="#000"/>
<path d="M51.78 280.78L53.98 284.96L49.58 284.96Z" fill="#000"/>
<path d="M75.20 278.48L77.40 282.66L73.00 282.66Z" fill="#000"/>
<path d="M104.46 275.78L106.66 279.96L102.26 279.96Z" fill="#000"/>
<rect x="28.13" y="287.43" width="4.53" height="4.53" fill="#000"/>
<rect x="49.51" y="289.43" width="4.53" height="4.53" fill="#000"/>
<rect x="72.93" y="284.13" width="4.53" height="4.53" fill="#000"/>
<rect x="102.20" y="277.43" width="4.53" height="4.53" fill="#000"/>
<text x="86.84 94.39 101.94 108.40" y="272.90" font-size="9.8" font-weight="bold" fill="#000" stroke="#000" stroke-width="0.2">DHL4</text>
<line x1="146.50" y1="317.50" x2="236.00" y2="317.50" stroke="#cfcfcf" stroke-width="1"/>
<path d="M146.50 277.00V343.50H236.00" fill="none" stroke="#8c8c8c" stroke-width="1"/>
<line x1="144.00" y1="343.50" x2="146.50" y2="343.50" stroke="#666" stroke-width="1"/>
<text x="137.48" y="346.59" font-size="8.3" font-weight="bold" fill="#000" stroke="#000" stroke-width="0.12">0</text>
<line x1="144.00" y1="330.50" x2="146.50" y2="330.50" stroke="#666" stroke-width="1"/>
<text x="132.87 137.48" y="333.29" font-size="8.3" font-weight="bold" fill="#000" stroke="#000" stroke-width="0.12">25</text>
<line x1="144.00" y1="317.50" x2="146.50" y2="317.50" stroke="#666" stroke-width="1"/>
<text x="132.87 137.48" y="319.99" font-size="8.3" font-weight="bold" fill="#000" stroke="#000" stroke-width="0.12">50</text>
<line x1="144.00" y1="303.50" x2="146.50" y2="303.50" stroke="#666" stroke-width="1"/>
<text x="132.87 137.48" y="306.69" font-size="8.3" font-weight="bold" fill="#000" stroke="#000" stroke-width="0.12">75</text>
<line x1="144.00" y1="290.50" x2="146.50" y2="290.50" stroke="#666" stroke-width="1"/>
<text x="128.25 132.87 137.48" y="293.39" font-size="8.3" font-weight="bold" fill="#000" stroke="#000" stroke-width="0.12">100</text>
<line x1="144.00" y1="277.50" x2="146.50" y2="277.50" stroke="#666" stroke-width="1"/>
<text x="128.25 132.87 137.48" y="280.09" font-size="8.3" font-weight="bold" fill="#000" stroke="#000" stroke-width="0.12">125</text>
<line x1="146.50" y1="343.50" x2="146.50" y2="345.50" stroke="#666" stroke-width="1"/>
<text x="140.53 145.15 147.45" y="355.80" font-size="8.3" font-weight="bold" fill="#000" stroke="#000" stroke-width="0.12">0.1</text>
<line x1="190.50" y1="343.50" x2="190.50" y2="345.50" stroke="#666" stroke-width="1"/>
<text x="188.59" y="355.80" font-size="8.3" font-weight="bold" fill="#000" stroke="#000" stroke-width="0.12">1</text>
<line x1="235.50" y1="343.50" x2="235.50" y2="345.50" stroke="#666" stroke-width="1"/>
<text x="230.88 235.50" y="355.80" font-size="8.3" font-weight="bold" fill="#000" stroke="#000" stroke-width="0.12">10</text>
<path d="M146.30 312.70L167.58 339.10L190.90 343.60" fill="none" stroke="#6a6a6a" stroke-width="1"/>
<path d="M146.30 290.20L167.58 288.10L190.90 286.40L220.03 288.10" fill="none" stroke="#6a6a6a" stroke-width="1"/>
<path d="M146.30 293.20L167.58 291.40L190.90 287.10L220.03 296.40" fill="none" stroke="#6a6a6a" stroke-width="1"/>
<path d="M146.30 308.00V318.00M144.80 308.00H147.80M144.80 318.00H147.80" fill="none" stroke="#555" stroke-width="0.8"/>
<path d="M190.90 282.00V292.00M189.40 282.00H192.40M189.40 292.00H192.40" fill="none" stroke="#555" stroke-width="0.8"/>
<path d="M146.30 310.72L148.28 312.70L146.30 314.68L144.32 312.70Z" fill="#000"/>
<path d="M167.58 337.12L169.56 339.10L167.58 341.08L165.60 339.10Z" fill="#000"/>
<path d="M190.90 341.62L192.88 343.60L190.90 345.58L188.92 343.60Z" fill="#000"/>
<path d="M146.30 287.78L148.50 291.96L144.10 291.96Z" fill="#000"/>
<path d="M167.58 285.68L169.78 289.86L165.38 289.86Z" fill="#000"/>
<path d="M190.90 283.98L193.10 288.16L188.70 288.16Z" fill="#000"/>
<path d="M220.03 285.68L222.23 289.86L217.83 289.86Z" fill="#000"/>
<rect x="144.03" y="290.93" width="4.53" height="4.53" fill="#000"/>
<rect x="165.31" y="289.13" width="4.53" height="4.53" fill="#000"/>
<rect x="188.63" y="284.83" width="4.53" height="4.53" fill="#000"/>
<rect x="217.77" y="294.13" width="4.53" height="4.53" fill="#000"/>
<text x="206.84 214.49 222.14 228.70" y="276.20" font-size="9.8" font-weight="bold" fill="#000" stroke="#000" stroke-width="0.2">DHL6</text>
<line x1="30.50" y1="422.50" x2="121.00" y2="422.50" stroke="#cfcfcf" stroke-width="1"/>
<path d="M30.50 382.00V448.50H121.00" fill="none" stroke="#8c8c8c" stroke-width="1"/>
<line x1="28.00" y1="448.50" x2="30.50" y2="448.50" stroke="#666" stroke-width="1"/>
<text x="21.58" y="451.59" font-size="8.3" font-weight="bold" fill="#000" stroke="#000" stroke-width="0.12">0</text>
<line x1="28.00" y1="435.50" x2="30.50" y2="435.50" stroke="#666" stroke-width="1"/>
<text x="16.97 21.58" y="438.29" font-size="8.3" font-weight="bold" fill="#000" stroke="#000" stroke-width="0.12">25</text>
<line x1="28.00" y1="422.50" x2="30.50" y2="422.50" stroke="#666" stroke-width="1"/>
<text x="16.97 21.58" y="424.99" font-size="8.3" font-weight="bold" fill="#000" stroke="#000" stroke-width="0.12">50</text>
<line x1="28.00" y1="408.50" x2="30.50" y2="408.50" stroke="#666" stroke-width="1"/>
<text x="16.97 21.58" y="411.69" font-size="8.3" font-weight="bold" fill="#000" stroke="#000" stroke-width="0.12">75</text>
<line x1="28.00" y1="395.50" x2="30.50" y2="395.50" stroke="#666" stroke-width="1"/>
<text x="12.35 16.97 21.58" y="398.39" font-size="8.3" font-weight="bold" fill="#000" stroke="#000" stroke-width="0.12">100</text>
<line x1="28.00" y1="382.50" x2="30.50" y2="382.50" stroke="#666" stroke-width="1"/>
<text x="12.35 16.97 21.58" y="385.09" font-size="8.3" font-weight="bold" fill="#000" stroke="#000" stroke-width="0.12">125</text>
<line x1="30.50" y1="448.50" x2="30.50" y2="450.50" stroke="#666" stroke-width="1"/>
<text x="24.63 29.25 31.55" y="460.80" font-size="8.3" font-weight="bold" fill="#000" stroke="#000" stroke-width="0.12">0.1</text>
<line x1="75.50" y1="448.50" x2="75.50" y2="450.50" stroke="#666" stroke-width="1"/>
<text x="72.89" y="460.80" font-size="8.3" font-weight="bold" fill="#000" stroke="#000" stroke-width="0.12">1</text>
<line x1="120.50" y1="448.50" x2="120.50" y2="450.50" stroke="#666" stroke-width="1"/>
<text x="115.38 120.00" y="460.80" font-size="8.3" font-weight="bold" fill="#000" stroke="#000" stroke-width="0.12">10</text>
<path d="M30.40 418.20L51.78 429.80L75.20 438.60" fill="none" stroke="#6a6a6a" stroke-width="1"/>
<path d="M30.40 396.40L51.78 396.40L75.20 395.70L104.46 398.90" fill="none" stroke="#6a6a6a" stroke-width="1"/>
<path d="M30.40 396.40L51.78 397.70L75.20 401.90L104.46 407.20" fill="none" stroke="#6a6a6a" stroke-width="1"/>
<path d="M30.40 388.00V405.00M28.90 388.00H31.90M28.90 405.00H31.90" fill="none" stroke="#555" stroke-width="0.8"/>
<path d="M51.78 389.00V404.00M50.28 389.00H53.28M50.28 404.00H53.28" fill="none" stroke="#555" stroke-width="0.8"/>
<path d="M75.20 390.00V402.00M73.70 390.00H76.70M73.70 402.00H76.70" fill="none" stroke="#555" stroke-width="0.8"/>
<path d="M104.46 392.00V404.00M102.96 392.00H105.96M102.96 404.00H105.96" fill="none" stroke="#555" stroke-width="0.8"/>
<path d="M75.20 397.00V407.00M73.70 397.00H76.70M73.70 407.00H76.70" fill="none" stroke="#555" stroke-width="0.8"/>
<path d="M104.46 402.00V412.00M102.96 402.00H105.96M102.96 412.00H105.96" fill="none" stroke="#555" stroke-width="0.8"/>
<path d="M30.40 416.22L32.38 418.20L30.40 420.18L28.42 418.20Z" fill="#000"/>
<path d="M51.78 427.82L53.76 429.80L51.78 431.78L49.80 429.80Z" fill="#000"/>
<path d="M75.20 436.62L77.18 438.60L75.20 440.58L73.22 438.60Z" fill="#000"/>
<path d="M30.40 393.98L32.60 398.16L28.20 398.16Z" fill="#000"/>
<path d="M51.78 393.98L53.98 398.16L49.58 398.16Z" fill="#000"/>
<path d="M75.20 393.28L77.40 397.46L73.00 397.46Z" fill="#000"/>
<path d="M104.46 396.48L106.66 400.66L102.26 400.66Z" fill="#000"/>
<rect x="28.13" y="394.13" width="4.53" height="4.53" fill="#000"/>
<rect x="49.51" y="395.43" width="4.53" height="4.53" fill="#000"/>
<rect x="72.93" y="399.63" width="4.53" height="4.53" fill="#000"/>
<rect x="102.20" y="404.93" width="4.53" height="4.53" fill="#000"/>
<text x="85.65 91.35 97.59 101.65 107.36 113.06" y="381.60" font-size="9.8" font-weight="bold" fill="#000" stroke="#000" stroke-width="0.2">Jurkat</text>
<line x1="146.50" y1="422.50" x2="236.00" y2="422.50" stroke="#cfcfcf" stroke-width="1"/>
<path d="M146.50 382.00V448.50H236.00" fill="none" stroke="#8c8c8c" stroke-width="1"/>
<line x1="144.00" y1="448.50" x2="146.50" y2="448.50" stroke="#666" stroke-width="1"/>
<text x="138.68" y="451.69" font-size="8.3" font-weight="bold" fill="#000" stroke="#000" stroke-width="0.12">0</text>
<line x1="144.00" y1="435.50" x2="146.50" y2="435.50" stroke="#666" stroke-width="1"/>
<text x="134.07 138.68" y="438.37" font-size="8.3" font-weight="bold" fill="#000" stroke="#000" stroke-width="0.12">25</text>
<line x1="144.00" y1="422.50" x2="146.50" y2="422.50" stroke="#666" stroke-width="1"/>
<text x="134.07 138.68" y="425.05" font-size="8.3" font-weight="bold" fill="#000" stroke="#000" stroke-width="0.12">50</text>
<line x1="144.00" y1="408.50" x2="146.50" y2="408.50" stroke="#666" stroke-width="1"/>
<text x="134.07 138.68" y="411.73" font-size="8.3" font-weight="bold" fill="#000" stroke="#000" stroke-width="0.12">75</text>
<line x1="144.00" y1="395.50" x2="146.50" y2="395.50" stroke="#666" stroke-width="1"/>
<text x="129.45 134.07 138.68" y="398.41" font-size="8.3" font-weight="bold" fill="#000" stroke="#000" stroke-width="0.12">100</text>
<line x1="144.00" y1="382.50" x2="146.50" y2="382.50" stroke="#666" stroke-width="1"/>
<text x="129.45 134.07 138.68" y="385.09" font-size="8.3" font-weight="bold" fill="#000" stroke="#000" stroke-width="0.12">125</text>
<line x1="146.50" y1="448.50" x2="146.50" y2="450.50" stroke="#666" stroke-width="1"/>
<text x="140.53 145.15 147.45" y="460.90" font-size="8.3" font-weight="bold" fill="#000" stroke="#000" stroke-width="0.12">0.1</text>
<line x1="190.50" y1="448.50" x2="190.50" y2="450.50" stroke="#666" stroke-width="1"/>
<text x="188.59" y="460.90" font-size="8.3" font-weight="bold" fill="#000" stroke="#000" stroke-width="0.12">1</text>
<line x1="235.50" y1="448.50" x2="235.50" y2="450.50" stroke="#666" stroke-width="1"/>
<text x="230.88 235.50" y="460.90" font-size="8.3" font-weight="bold" fill="#000" stroke="#000" stroke-width="0.12">10</text>
<path d="M146.30 403.90L167.58 418.20L190.90 429.50" fill="none" stroke="#6a6a6a" stroke-width="1"/>
<path d="M146.30 399.70L167.58 398.90L190.90 398.90L220.03 402.70" fill="none" stroke="#6a6a6a" stroke-width="1"/>
<path d="M146.30 397.80" fill="none" stroke="#6a6a6a" stroke-width="1"/>
<path d="M146.30 400.20L167.58 401.40L190.90 405.70L220.03 419.70" fill="none" stroke="#6a6a6a" stroke-width="1"/>
<path d="M146.30 395.00V404.00M144.80 395.00H147.80M144.80 404.00H147.80" fill="none" stroke="#555" stroke-width="0.8"/>
<path d="M167.58 394.00V402.00M166.08 394.00H169.08M166.08 402.00H169.08" fill="none" stroke="#555" stroke-width="0.8"/>
<path d="M190.90 394.00V402.00M189.40 394.00H192.40M189.40 402.00H192.40" fill="none" stroke="#555" stroke-width="0.8"/>
<path d="M146.30 401.92L148.28 403.90L146.30 405.88L144.32 403.90Z" fill="#000"/>
<path d="M167.58 416.22L169.56 418.20L167.58 420.18L165.60 418.20Z" fill="#000"/>
<path d="M190.90 427.52L192.88 429.50L190.90 431.48L188.92 429.50Z" fill="#000"/>
<path d="M146.30 397.28L148.50 401.46L144.10 401.46Z" fill="#000"/>
<path d="M167.58 396.48L169.78 400.66L165.38 400.66Z" fill="#000"/>
<path d="M190.90 396.48L193.10 400.66L188.70 400.66Z" fill="#000"/>
<path d="M220.03 400.28L222.23 404.46L217.83 404.46Z" fill="#000"/>
<circle cx="146.30" cy="397.80" r="2.31" fill="#000"/>
<rect x="144.03" y="397.93" width="4.53" height="4.53" fill="#000"/>
<rect x="165.31" y="399.13" width="4.53" height="4.53" fill="#000"/>
<rect x="188.63" y="403.43" width="4.53" height="4.53" fill="#000"/>
<rect x="217.77" y="417.43" width="4.53" height="4.53" fill="#000"/>
<text x="205.34 214.42 223.49 229.85" y="382.40" font-size="9.8" font-weight="bold" fill="#000" stroke="#000" stroke-width="0.2">MM1S</text>
<line x1="288.50" y1="318.50" x2="379.00" y2="318.50" stroke="#cfcfcf" stroke-width="1"/>
<path d="M288.50 277.00V345.50H379.00" fill="none" stroke="#8c8c8c" stroke-width="1"/>
<line x1="286.00" y1="345.50" x2="288.50" y2="345.50" stroke="#666" stroke-width="1"/>
<text x="280.08" y="348.49" font-size="8.3" font-weight="bold" fill="#000" stroke="#000" stroke-width="0.12">0</text>
<line x1="286.00" y1="331.50" x2="288.50" y2="331.50" stroke="#666" stroke-width="1"/>
<text x="275.47 280.08" y="334.91" font-size="8.3" font-weight="bold" fill="#000" stroke="#000" stroke-width="0.12">25</text>
<line x1="286.00" y1="318.50" x2="288.50" y2="318.50" stroke="#666" stroke-width="1"/>
<text x="275.47 280.08" y="321.33" font-size="8.3" font-weight="bold" fill="#000" stroke="#000" stroke-width="0.12">50</text>
<line x1="286.00" y1="304.50" x2="288.50" y2="304.50" stroke="#666" stroke-width="1"/>
<text x="275.47 280.08" y="307.75" font-size="8.3" font-weight="bold" fill="#000" stroke="#000" stroke-width="0.12">75</text>
<line x1="286.00" y1="290.50" x2="288.50" y2="290.50" stroke="#666" stroke-width="1"/>
<text x="270.85 275.47 280.08" y="294.17" font-size="8.3" font-weight="bold" fill="#000" stroke="#000" stroke-width="0.12">100</text>
<line x1="286.00" y1="277.50" x2="288.50" y2="277.50" stroke="#666" stroke-width="1"/>
<text x="270.85 275.47 280.08" y="280.59" font-size="8.3" font-weight="bold" fill="#000" stroke="#000" stroke-width="0.12">125</text>
<line x1="288.50" y1="345.50" x2="288.50" y2="347.50" stroke="#666" stroke-width="1"/>
<text x="284.93 289.55 291.85" y="358.00" font-size="8.3" font-weight="bold" fill="#000" stroke="#000" stroke-width="0.12">0.1</text>
<line x1="333.50" y1="345.50" x2="333.50" y2="347.50" stroke="#666" stroke-width="1"/>
<text x="333.14" y="358.00" font-size="8.3" font-weight="bold" fill="#000" stroke="#000" stroke-width="0.12">1</text>
<line x1="378.50" y1="345.50" x2="378.50" y2="347.50" stroke="#666" stroke-width="1"/>
<text x="375.58 380.20" y="358.00" font-size="8.3" font-weight="bold" fill="#000" stroke="#000" stroke-width="0.12">10</text>
<path d="M288.90 290.70L310.25 296.00L333.65 305.30" fill="none" stroke="#6a6a6a" stroke-width="1"/>
<path d="M288.90 290.30L310.25 284.60L333.65 286.50L362.88 288.00" fill="none" stroke="#6a6a6a" stroke-width="1"/>
<path d="M288.90 284.70L310.25 284.20L333.65 287.20L362.88 289.00" fill="none" stroke="#6a6a6a" stroke-width="1"/>
<path d="M310.25 292.20V299.70M308.75 292.20H311.75M308.75 299.70H311.75" fill="none" stroke="#555" stroke-width="0.8"/>
<path d="M333.65 300.70V309.80M332.15 300.70H335.15M332.15 309.80H335.15" fill="none" stroke="#555" stroke-width="0.8"/>
<path d="M310.25 280.00V289.00M308.75 280.00H311.75M308.75 289.00H311.75" fill="none" stroke="#555" stroke-width="0.8"/>
<path d="M362.88 284.00V292.00M361.38 284.00H364.38M361.38 292.00H364.38" fill="none" stroke="#555" stroke-width="0.8"/>
<path d="M288.90 288.72L290.88 290.70L288.90 292.68L286.92 290.70Z" fill="#000"/>
<path d="M310.25 294.02L312.23 296.00L310.25 297.98L308.27 296.00Z" fill="#000"/>
<path d="M333.65 303.32L335.63 305.30L333.65 307.28L331.67 305.30Z" fill="#000"/>
<circle cx="288.90" cy="290.30" r="2.31" fill="#000"/>
<circle cx="310.25" cy="284.60" r="2.31" fill="#000"/>
<circle cx="333.65" cy="286.50" r="2.31" fill="#000"/>
<circle cx="362.88" cy="288.00" r="2.31" fill="#000"/>
<rect x="286.63" y="282.43" width="4.53" height="4.53" fill="#000"/>
<rect x="307.99" y="281.93" width="4.53" height="4.53" fill="#000"/>
<rect x="331.38" y="284.93" width="4.53" height="4.53" fill="#000"/>
<rect x="360.62" y="286.73" width="4.53" height="4.53" fill="#000"/>
<text x="350.54 357.92 363.67 369.42" y="276.30" font-size="9.8" font-weight="bold" fill="#000" stroke="#000" stroke-width="0.2">H345</text>
<line x1="408.50" y1="317.50" x2="498.00" y2="317.50" stroke="#cfcfcf" stroke-width="1"/>
<path d="M408.50 277.00V345.50H498.00" fill="none" stroke="#8c8c8c" stroke-width="1"/>
<line x1="406.00" y1="345.50" x2="408.50" y2="345.50" stroke="#666" stroke-width="1"/>
<text x="399.48" y="348.49" font-size="8.3" font-weight="bold" fill="#000" stroke="#000" stroke-width="0.12">0</text>
<line x1="406.00" y1="331.50" x2="408.50" y2="331.50" stroke="#666" stroke-width="1"/>
<text x="394.87 399.48" y="334.87" font-size="8.3" font-weight="bold" fill="#000" stroke="#000" stroke-width="0.12">25</text>
<line x1="406.00" y1="317.50" x2="408.50" y2="317.50" stroke="#666" stroke-width="1"/>
<text x="394.87 399.48" y="321.25" font-size="8.3" font-weight="bold" fill="#000" stroke="#000" stroke-width="0.12">50</text>
<line x1="406.00" y1="304.50" x2="408.50" y2="304.50" stroke="#666" stroke-width="1"/>
<text x="394.87 399.48" y="307.63" font-size="8.3" font-weight="bold" fill="#000" stroke="#000" stroke-width="0.12">75</text>
<line x1="406.00" y1="290.50" x2="408.50" y2="290.50" stroke="#666" stroke-width="1"/>
<text x="390.25 394.87 399.48" y="294.01" font-size="8.3" font-weight="bold" fill="#000" stroke="#000" stroke-width="0.12">100</text>
<line x1="406.00" y1="277.50" x2="408.50" y2="277.50" stroke="#666" stroke-width="1"/>
<text x="390.25 394.87 399.48" y="280.39" font-size="8.3" font-weight="bold" fill="#000" stroke="#000" stroke-width="0.12">125</text>
<line x1="408.50" y1="345.50" x2="408.50" y2="347.50" stroke="#666" stroke-width="1"/>
<text x="404.33 408.95 411.25" y="358.00" font-size="8.3" font-weight="bold" fill="#000" stroke="#000" stroke-width="0.12">0.1</text>
<line x1="452.50" y1="345.50" x2="452.50" y2="347.50" stroke="#666" stroke-width="1"/>
<text x="452.29" y="358.00" font-size="8.3" font-weight="bold" fill="#000" stroke="#000" stroke-width="0.12">1</text>
<line x1="497.50" y1="345.50" x2="497.50" y2="347.50" stroke="#666" stroke-width="1"/>
<text x="494.48 499.10" y="358.00" font-size="8.3" font-weight="bold" fill="#000" stroke="#000" stroke-width="0.12">10</text>
<path d="M408.30 292.70L429.53 304.00L452.80 310.70" fill="none" stroke="#6a6a6a" stroke-width="1"/>
<path d="M408.30 291.40L429.53 291.40L452.80 291.40L481.87 291.40" fill="none" stroke="#6a6a6a" stroke-width="1"/>
<path d="M408.30 288.90L429.53 288.90L452.80 288.40L481.87 296.40" fill="none" stroke="#6a6a6a" stroke-width="1"/>
<path d="M429.53 301.00V307.00M428.03 301.00H431.03M428.03 307.00H431.03" fill="none" stroke="#555" stroke-width="0.8"/>
<path d="M408.30 282.00V295.00M406.80 282.00H409.80M406.80 295.00H409.80" fill="none" stroke="#555" stroke-width="0.8"/>
<path d="M429.53 283.00V294.00M428.03 283.00H431.03M428.03 294.00H431.03" fill="none" stroke="#555" stroke-width="0.8"/>
<circle cx="408.30" cy="292.70" r="2.31" fill="#000"/>
<path d="M429.53 302.02L431.51 304.00L429.53 305.98L427.55 304.00Z" fill="#000"/>
<circle cx="452.80" cy="310.70" r="2.31" fill="#000"/>
<path d="M408.30 288.98L410.50 293.16L406.10 293.16Z" fill="#000"/>
<path d="M429.53 288.98L431.73 293.16L427.33 293.16Z" fill="#000"/>
<path d="M452.80 288.98L455.00 293.16L450.60 293.16Z" fill="#000"/>
<path d="M481.87 288.98L484.07 293.16L479.67 293.16Z" fill="#000"/>
<rect x="406.03" y="286.63" width="4.53" height="4.53" fill="#000"/>
<rect x="427.27" y="286.63" width="4.53" height="4.53" fill="#000"/>
<rect x="450.53" y="286.13" width="4.53" height="4.53" fill="#000"/>
<rect x="479.60" y="294.13" width="4.53" height="4.53" fill="#000"/>
<text x="473.14 480.89 487.01" y="275.80" font-size="9.8" font-weight="bold" fill="#000" stroke="#000" stroke-width="0.2">H69</text>
<line x1="289.50" y1="423.50" x2="380.00" y2="423.50" stroke="#cfcfcf" stroke-width="1"/>
<path d="M289.50 382.00V450.50H380.00" fill="none" stroke="#8c8c8c" stroke-width="1"/>
<line x1="287.00" y1="450.50" x2="289.50" y2="450.50" stroke="#666" stroke-width="1"/>
<text x="280.78" y="452.99" font-size="8.3" font-weight="bold" fill="#000" stroke="#000" stroke-width="0.12">0</text>
<line x1="287.00" y1="436.50" x2="289.50" y2="436.50" stroke="#666" stroke-width="1"/>
<text x="276.17 280.78" y="439.33" font-size="8.3" font-weight="bold" fill="#000" stroke="#000" stroke-width="0.12">25</text>
<line x1="287.00" y1="423.50" x2="289.50" y2="423.50" stroke="#666" stroke-width="1"/>
<text x="276.17 280.78" y="425.67" font-size="8.3" font-weight="bold" fill="#000" stroke="#000" stroke-width="0.12">50</text>
<line x1="287.00" y1="409.50" x2="289.50" y2="409.50" stroke="#666" stroke-width="1"/>
<text x="276.17 280.78" y="412.01" font-size="8.3" font-weight="bold" fill="#000" stroke="#000" stroke-width="0.12">75</text>
<line x1="287.00" y1="395.50" x2="289.50" y2="395.50" stroke="#666" stroke-width="1"/>
<text x="271.55 276.17 280.78" y="398.35" font-size="8.3" font-weight="bold" fill="#000" stroke="#000" stroke-width="0.12">100</text>
<line x1="287.00" y1="382.50" x2="289.50" y2="382.50" stroke="#666" stroke-width="1"/>
<text x="271.55 276.17 280.78" y="384.69" font-size="8.3" font-weight="bold" fill="#000" stroke="#000" stroke-width="0.12">125</text>
<line x1="289.50" y1="450.50" x2="289.50" y2="452.50" stroke="#666" stroke-width="1"/>
<text x="285.63 290.25 292.55" y="462.60" font-size="8.3" font-weight="bold" fill="#000" stroke="#000" stroke-width="0.12">0.1</text>
<line x1="334.50" y1="450.50" x2="334.50" y2="452.50" stroke="#666" stroke-width="1"/>
<text x="333.89" y="462.60" font-size="8.3" font-weight="bold" fill="#000" stroke="#000" stroke-width="0.12">1</text>
<line x1="379.50" y1="450.50" x2="379.50" y2="452.50" stroke="#666" stroke-width="1"/>
<text x="376.38 381.00" y="462.60" font-size="8.3" font-weight="bold" fill="#000" stroke="#000" stroke-width="0.12">10</text>
<path d="M289.60 399.70L310.98 407.20L334.40 411.50" fill="none" stroke="#6a6a6a" stroke-width="1"/>
<path d="M289.60 399.00L310.98 398.50L334.40 398.50L363.66 400.20" fill="none" stroke="#6a6a6a" stroke-width="1"/>
<path d="M289.60 398.20L310.98 397.70L334.40 397.70L363.66 397.70" fill="none" stroke="#6a6a6a" stroke-width="1"/>
<path d="M289.60 397.72L291.58 399.70L289.60 401.68L287.62 399.70Z" fill="#000"/>
<path d="M310.98 405.22L312.96 407.20L310.98 409.18L309.00 407.20Z" fill="#000"/>
<path d="M334.40 409.52L336.38 411.50L334.40 413.48L332.42 411.50Z" fill="#000"/>
<path d="M289.60 396.58L291.80 400.76L287.40 400.76Z" fill="#000"/>
<path d="M310.98 396.08L313.18 400.26L308.78 400.26Z" fill="#000"/>
<path d="M334.40 396.08L336.60 400.26L332.20 400.26Z" fill="#000"/>
<path d="M363.66 397.78L365.86 401.96L361.46 401.96Z" fill="#000"/>
<rect x="287.33" y="395.93" width="4.53" height="4.53" fill="#000"/>
<rect x="308.71" y="395.43" width="4.53" height="4.53" fill="#000"/>
<rect x="332.13" y="395.43" width="4.53" height="4.53" fill="#000"/>
<rect x="361.40" y="395.43" width="4.53" height="4.53" fill="#000"/>
<text x="318.34 326.96 334.48 342.01 345.72 354.33 361.86 365.57 371.47 377.37" y="382.90" font-size="9.8" font-weight="bold" fill="#000" stroke="#000" stroke-width="0.2">MDA-MB-231</text>
<line x1="408.50" y1="423.50" x2="499.00" y2="423.50" stroke="#cfcfcf" stroke-width="1"/>
<path d="M408.50 382.00V450.50H499.00" fill="none" stroke="#8c8c8c" stroke-width="1"/>
<line x1="406.00" y1="450.50" x2="408.50" y2="450.50" stroke="#666" stroke-width="1"/>
<text x="399.98" y="452.99" font-size="8.3" font-weight="bold" fill="#000" stroke="#000" stroke-width="0.12">0</text>
<line x1="406.00" y1="436.50" x2="408.50" y2="436.50" stroke="#666" stroke-width="1"/>
<text x="395.37 399.98" y="439.33" font-size="8.3" font-weight="bold" fill="#000" stroke="#000" stroke-width="0.12">25</text>
<line x1="406.00" y1="423.50" x2="408.50" y2="423.50" stroke="#666" stroke-width="1"/>
<text x="395.37 399.98" y="425.67" font-size="8.3" font-weight="bold" fill="#000" stroke="#000" stroke-width="0.12">50</text>
<line x1="406.00" y1="409.50" x2="408.50" y2="409.50" stroke="#666" stroke-width="1"/>
<text x="395.37 399.98" y="412.01" font-size="8.3" font-weight="bold" fill="#000" stroke="#000" stroke-width="0.12">75</text>
<line x1="406.00" y1="395.50" x2="408.50" y2="395.50" stroke="#666" stroke-width="1"/>
<text x="390.75 395.37 399.98" y="398.35" font-size="8.3" font-weight="bold" fill="#000" stroke="#000" stroke-width="0.12">100</text>
<line x1="406.00" y1="382.50" x2="408.50" y2="382.50" stroke="#666" stroke-width="1"/>
<text x="390.75 395.37 399.98" y="384.69" font-size="8.3" font-weight="bold" fill="#000" stroke="#000" stroke-width="0.12">125</text>
<line x1="408.50" y1="450.50" x2="408.50" y2="452.50" stroke="#666" stroke-width="1"/>
<text x="404.83 409.45 411.75" y="462.60" font-size="8.3" font-weight="bold" fill="#000" stroke="#000" stroke-width="0.12">0.1</text>
<line x1="453.50" y1="450.50" x2="453.50" y2="452.50" stroke="#666" stroke-width="1"/>
<text x="453.09" y="462.60" font-size="8.3" font-weight="bold" fill="#000" stroke="#000" stroke-width="0.12">1</text>
<line x1="498.50" y1="450.50" x2="498.50" y2="452.50" stroke="#666" stroke-width="1"/>
<text x="495.58 500.20" y="462.60" font-size="8.3" font-weight="bold" fill="#000" stroke="#000" stroke-width="0.12">10</text>
<path d="M408.80 396.40L430.18 412.20L453.60 415.20" fill="none" stroke="#6a6a6a" stroke-width="1"/>
<path d="M408.80 402.20L430.18 402.20L453.60 403.20L482.86 408.20" fill="none" stroke="#6a6a6a" stroke-width="1"/>
<path d="M408.80 397.70L430.18 398.20L453.60 400.70L482.86 404.70" fill="none" stroke="#6a6a6a" stroke-width="1"/>
<path d="M408.80 390.00V404.00M407.30 390.00H410.30M407.30 404.00H410.30" fill="none" stroke="#555" stroke-width="0.8"/>
<circle cx="408.80" cy="396.40" r="2.31" fill="#000"/>
<circle cx="430.18" cy="412.20" r="2.31" fill="#000"/>
<circle cx="453.60" cy="415.20" r="2.31" fill="#000"/>
<path d="M408.80 399.78L411.00 403.96L406.60 403.96Z" fill="#000"/>
<path d="M430.18 399.78L432.38 403.96L427.98 403.96Z" fill="#000"/>
<path d="M453.60 400.78L455.80 404.96L451.40 404.96Z" fill="#000"/>
<path d="M482.86 405.78L485.06 409.96L480.66 409.96Z" fill="#000"/>
<rect x="406.53" y="395.43" width="4.53" height="4.53" fill="#000"/>
<rect x="427.91" y="395.93" width="4.53" height="4.53" fill="#000"/>
<rect x="451.33" y="398.43" width="4.53" height="4.53" fill="#000"/>
<rect x="480.60" y="402.43" width="4.53" height="4.53" fill="#000"/>
<text x="459.94 467.39 473.75 481.20 484.83 490.65" y="382.80" font-size="9.8" font-weight="bold" fill="#000" stroke="#000" stroke-width="0.2">HTB-30</text>
<text x="3.60" y="14.80" font-size="18.2" font-weight="bold" fill="#000">A</text>
<text x="290.00" y="14.80" font-size="18.2" font-weight="bold" fill="#000">B</text>
<text x="1.40" y="258.40" font-size="18.2" font-weight="bold" fill="#000">C</text>
<text x="262.80" y="258.90" font-size="18.2" font-weight="bold" fill="#000">D</text>
<text x="9.06 16.49 22.34 25.51 31.35 35.05 38.22 44.07 49.91 53.08 59.45 63.69 70.06 78.03 81.73" y="109.70" font-size="9.6" font-weight="bold" fill="#000" stroke="#000" stroke-width="0.2" transform="rotate(-90 9.70 109.70)">Relative growth</text>
<text x="9.16 16.51 22.27 25.35 31.11 34.72 37.81 43.57 49.33 52.41 58.69 62.85 69.13 77.02 80.63" y="203.80" font-size="9.6" font-weight="bold" fill="#000" stroke="#000" stroke-width="0.2" transform="rotate(-90 9.80 203.80)">Relative growth</text>
<text x="6.96 14.37 20.18 23.32 29.14 32.81 35.95 41.77 47.58 50.73 57.06 61.28 67.62 75.56 79.23" y="347.30" font-size="9.6" font-weight="bold" fill="#000" stroke="#000" stroke-width="0.2" transform="rotate(-90 7.60 347.30)">Relative growth</text>
<text x="7.16 14.57 20.38 23.52 29.34 33.01 36.15 41.97 47.78 50.93 57.26 61.48 67.82 75.76 79.43" y="450.80" font-size="9.6" font-weight="bold" fill="#000" stroke="#000" stroke-width="0.2" transform="rotate(-90 7.80 450.80)">Relative growth</text>
<text x="1.26 7.06 10.67 18.10 23.90 30.24 36.04 41.84 48.18 51.25 57.59 63.39 69.72 75.52 81.33 84.40 88.01 97.08 103.41 106.49 115.55 121.89" y="224.20" font-size="9.8" font-weight="bold" fill="#000" stroke="#000" stroke-width="0.2">2-Deoxyglucose [mg/mL]</text>
<text x="135.58 141.34 144.91 152.84 156.41 164.89 170.65 174.22 180.52 186.28 189.31 195.61 198.64 204.93 210.69 216.99 222.75 228.51 231.54 235.12 244.14 250.43 253.47 262.49 268.79" y="224.60" font-size="9.8" font-weight="bold" fill="#000" stroke="#000" stroke-width="0.2">3-O-Methylglucose [mg/mL]</text>
<text x="319.14 326.44 330.47 336.67 342.87 345.81 349.29 358.22 364.42 367.36 376.29 382.49" y="224.20" font-size="9.8" font-weight="bold" fill="#000" stroke="#000" stroke-width="0.2">Drug [mg/mL]</text>
<text x="435.14 442.47 446.54 452.78 459.02 461.99 465.51 474.47 480.71 483.68 492.65 498.89" y="224.20" font-size="9.8" font-weight="bold" fill="#000" stroke="#000" stroke-width="0.2">Drug [mg/mL]</text>
<text x="41.14 48.43 52.45 58.64 64.83 67.76 71.23 80.15 86.34 89.27 98.19 104.39" y="473.50" font-size="9.8" font-weight="bold" fill="#000" stroke="#000" stroke-width="0.2">Drug [mg/mL]</text>
<text x="157.74 165.06 169.12 175.35 181.58 184.54 188.05 197.01 203.24 206.20 215.16 221.39" y="473.50" font-size="9.8" font-weight="bold" fill="#000" stroke="#000" stroke-width="0.2">Drug [mg/mL]</text>
<text x="302.14 309.43 313.45 319.64 325.83 328.76 332.23 341.15 347.34 350.27 359.19 365.39" y="474.40" font-size="9.8" font-weight="bold" fill="#000" stroke="#000" stroke-width="0.2">Drug [mg/mL]</text>
<text x="419.14 426.43 430.45 436.64 442.83 445.76 449.23 458.15 464.34 467.27 476.19 482.39" y="474.40" font-size="9.8" font-weight="bold" fill="#000" stroke="#000" stroke-width="0.2">Drug [mg/mL]</text>
<rect x="16.02" y="51.87" width="2.11" height="2.12" fill="#fff"/>
<rect x="19.67" y="51.87" width="2.14" height="2.12" fill="#fff"/>
<rect x="16.02" y="38.07" width="2.11" height="2.12" fill="#fff"/>
<rect x="19.67" y="38.07" width="2.14" height="2.12" fill="#fff"/>
<rect x="35.39" y="114.83" width="2.11" height="2.12" fill="#fff"/>
<rect x="39.04" y="114.83" width="2.14" height="2.12" fill="#fff"/>
<rect x="113.84" y="114.83" width="2.11" height="2.12" fill="#fff"/>
<rect x="117.48" y="114.83" width="2.14" height="2.12" fill="#fff"/>
<rect x="132.22" y="52.67" width="2.11" height="2.12" fill="#fff"/>
<rect x="135.87" y="52.67" width="2.14" height="2.12" fill="#fff"/>
<rect x="132.22" y="38.87" width="2.11" height="2.12" fill="#fff"/>
<rect x="135.87" y="38.87" width="2.14" height="2.12" fill="#fff"/>
<rect x="147.34" y="115.13" width="2.11" height="2.12" fill="#fff"/>
<rect x="150.98" y="115.13" width="2.14" height="2.12" fill="#fff"/>
<rect x="227.03" y="115.13" width="2.11" height="2.12" fill="#fff"/>
<rect x="230.68" y="115.13" width="2.14" height="2.12" fill="#fff"/>
<rect x="16.02" y="147.09" width="2.11" height="2.12" fill="#fff"/>
<rect x="19.67" y="147.09" width="2.14" height="2.12" fill="#fff"/>
<rect x="16.02" y="133.27" width="2.11" height="2.12" fill="#fff"/>
<rect x="19.67" y="133.27" width="2.14" height="2.12" fill="#fff"/>
<rect x="34.89" y="208.83" width="2.11" height="2.12" fill="#fff"/>
<rect x="38.54" y="208.83" width="2.14" height="2.12" fill="#fff"/>
<rect x="113.84" y="208.83" width="2.11" height="2.12" fill="#fff"/>
<rect x="117.48" y="208.83" width="2.14" height="2.12" fill="#fff"/>
<rect x="133.62" y="147.81" width="2.11" height="2.12" fill="#fff"/>
<rect x="137.27" y="147.81" width="2.14" height="2.12" fill="#fff"/>
<rect x="133.62" y="133.97" width="2.11" height="2.12" fill="#fff"/>
<rect x="137.27" y="133.97" width="2.14" height="2.12" fill="#fff"/>
<rect x="147.34" y="209.63" width="2.11" height="2.12" fill="#fff"/>
<rect x="150.98" y="209.63" width="2.14" height="2.12" fill="#fff"/>
<rect x="226.53" y="209.63" width="2.11" height="2.12" fill="#fff"/>
<rect x="230.18" y="209.63" width="2.14" height="2.12" fill="#fff"/>
<rect x="289.65" y="46.60" width="2.07" height="2.10" fill="#fff"/>
<rect x="293.23" y="46.60" width="2.11" height="2.10" fill="#fff"/>
<rect x="289.65" y="33.32" width="2.07" height="2.10" fill="#fff"/>
<rect x="293.23" y="33.32" width="2.11" height="2.10" fill="#fff"/>
<rect x="308.15" y="108.95" width="2.07" height="2.10" fill="#fff"/>
<rect x="311.73" y="108.95" width="2.11" height="2.10" fill="#fff"/>
<rect x="348.88" y="108.95" width="2.07" height="2.10" fill="#fff"/>
<rect x="352.46" y="108.95" width="2.11" height="2.10" fill="#fff"/>
<rect x="390.84" y="108.95" width="2.07" height="2.10" fill="#fff"/>
<rect x="394.42" y="108.95" width="2.11" height="2.10" fill="#fff"/>
<rect x="405.85" y="46.84" width="2.07" height="2.10" fill="#fff"/>
<rect x="409.43" y="46.84" width="2.11" height="2.10" fill="#fff"/>
<rect x="405.85" y="33.52" width="2.07" height="2.10" fill="#fff"/>
<rect x="409.43" y="33.52" width="2.11" height="2.10" fill="#fff"/>
<rect x="425.25" y="109.35" width="2.07" height="2.10" fill="#fff"/>
<rect x="428.83" y="109.35" width="2.11" height="2.10" fill="#fff"/>
<rect x="465.58" y="109.35" width="2.07" height="2.10" fill="#fff"/>
<rect x="469.16" y="109.35" width="2.11" height="2.10" fill="#fff"/>
<rect x="507.14" y="109.35" width="2.07" height="2.10" fill="#fff"/>
<rect x="510.72" y="109.35" width="2.11" height="2.10" fill="#fff"/>
<rect x="500.13" y="30.15" width="2.26" height="2.20" fill="#fff"/>
<rect x="504.04" y="30.15" width="2.28" height="2.20" fill="#fff"/>
<rect x="289.65" y="151.06" width="2.07" height="2.10" fill="#fff"/>
<rect x="293.23" y="151.06" width="2.11" height="2.10" fill="#fff"/>
<rect x="289.65" y="137.82" width="2.07" height="2.10" fill="#fff"/>
<rect x="293.23" y="137.82" width="2.11" height="2.10" fill="#fff"/>
<rect x="309.15" y="213.25" width="2.07" height="2.10" fill="#fff"/>
<rect x="312.73" y="213.25" width="2.11" height="2.10" fill="#fff"/>
<rect x="349.98" y="213.25" width="2.07" height="2.10" fill="#fff"/>
<rect x="353.56" y="213.25" width="2.11" height="2.10" fill="#fff"/>
<rect x="392.04" y="213.25" width="2.07" height="2.10" fill="#fff"/>
<rect x="395.62" y="213.25" width="2.11" height="2.10" fill="#fff"/>
<rect x="376.96" y="131.35" width="2.26" height="2.20" fill="#fff"/>
<rect x="380.86" y="131.35" width="2.28" height="2.20" fill="#fff"/>
<rect x="406.55" y="151.06" width="2.07" height="2.10" fill="#fff"/>
<rect x="410.13" y="151.06" width="2.11" height="2.10" fill="#fff"/>
<rect x="406.55" y="137.82" width="2.07" height="2.10" fill="#fff"/>
<rect x="410.13" y="137.82" width="2.11" height="2.10" fill="#fff"/>
<rect x="425.75" y="213.25" width="2.07" height="2.10" fill="#fff"/>
<rect x="429.33" y="213.25" width="2.11" height="2.10" fill="#fff"/>
<rect x="466.68" y="213.25" width="2.07" height="2.10" fill="#fff"/>
<rect x="470.26" y="213.25" width="2.11" height="2.10" fill="#fff"/>
<rect x="508.84" y="213.25" width="2.07" height="2.10" fill="#fff"/>
<rect x="512.42" y="213.25" width="2.11" height="2.10" fill="#fff"/>
<rect x="513.85" y="129.95" width="2.26" height="2.20" fill="#fff"/>
<rect x="517.75" y="129.95" width="2.28" height="2.20" fill="#fff"/>
<rect x="12.16" y="293.17" width="1.98" height="2.05" fill="#fff"/>
<rect x="15.58" y="293.17" width="2.02" height="2.05" fill="#fff"/>
<rect x="12.16" y="279.79" width="1.98" height="2.05" fill="#fff"/>
<rect x="15.58" y="279.79" width="2.02" height="2.05" fill="#fff"/>
<rect x="31.36" y="355.90" width="1.98" height="2.05" fill="#fff"/>
<rect x="34.78" y="355.90" width="2.02" height="2.05" fill="#fff"/>
<rect x="72.70" y="355.90" width="1.98" height="2.05" fill="#fff"/>
<rect x="76.12" y="355.90" width="2.02" height="2.05" fill="#fff"/>
<rect x="115.19" y="355.90" width="1.98" height="2.05" fill="#fff"/>
<rect x="118.61" y="355.90" width="2.02" height="2.05" fill="#fff"/>
<rect x="128.06" y="292.49" width="1.98" height="2.05" fill="#fff"/>
<rect x="131.48" y="292.49" width="2.02" height="2.05" fill="#fff"/>
<rect x="128.06" y="279.19" width="1.98" height="2.05" fill="#fff"/>
<rect x="131.48" y="279.19" width="2.02" height="2.05" fill="#fff"/>
<rect x="147.26" y="354.90" width="1.98" height="2.05" fill="#fff"/>
<rect x="150.68" y="354.90" width="2.02" height="2.05" fill="#fff"/>
<rect x="188.40" y="354.90" width="1.98" height="2.05" fill="#fff"/>
<rect x="191.82" y="354.90" width="2.02" height="2.05" fill="#fff"/>
<rect x="230.69" y="354.90" width="1.98" height="2.05" fill="#fff"/>
<rect x="234.11" y="354.90" width="2.02" height="2.05" fill="#fff"/>
<rect x="12.16" y="397.49" width="1.98" height="2.05" fill="#fff"/>
<rect x="15.58" y="397.49" width="2.02" height="2.05" fill="#fff"/>
<rect x="12.16" y="384.19" width="1.98" height="2.05" fill="#fff"/>
<rect x="15.58" y="384.19" width="2.02" height="2.05" fill="#fff"/>
<rect x="31.36" y="459.90" width="1.98" height="2.05" fill="#fff"/>
<rect x="34.78" y="459.90" width="2.02" height="2.05" fill="#fff"/>
<rect x="72.70" y="459.90" width="1.98" height="2.05" fill="#fff"/>
<rect x="76.12" y="459.90" width="2.02" height="2.05" fill="#fff"/>
<rect x="115.19" y="459.90" width="1.98" height="2.05" fill="#fff"/>
<rect x="118.61" y="459.90" width="2.02" height="2.05" fill="#fff"/>
<rect x="129.26" y="397.51" width="1.98" height="2.05" fill="#fff"/>
<rect x="132.68" y="397.51" width="2.02" height="2.05" fill="#fff"/>
<rect x="129.26" y="384.19" width="1.98" height="2.05" fill="#fff"/>
<rect x="132.68" y="384.19" width="2.02" height="2.05" fill="#fff"/>
<rect x="147.26" y="460.00" width="1.98" height="2.05" fill="#fff"/>
<rect x="150.68" y="460.00" width="2.02" height="2.05" fill="#fff"/>
<rect x="188.40" y="460.00" width="1.98" height="2.05" fill="#fff"/>
<rect x="191.82" y="460.00" width="2.02" height="2.05" fill="#fff"/>
<rect x="230.69" y="460.00" width="1.98" height="2.05" fill="#fff"/>
<rect x="234.11" y="460.00" width="2.02" height="2.05" fill="#fff"/>
<rect x="223.37" y="381.35" width="2.26" height="2.20" fill="#fff"/>
<rect x="227.27" y="381.35" width="2.28" height="2.20" fill="#fff"/>
<rect x="270.66" y="293.27" width="1.98" height="2.05" fill="#fff"/>
<rect x="274.08" y="293.27" width="2.02" height="2.05" fill="#fff"/>
<rect x="270.66" y="279.69" width="1.98" height="2.05" fill="#fff"/>
<rect x="274.08" y="279.69" width="2.02" height="2.05" fill="#fff"/>
<rect x="291.66" y="357.10" width="1.98" height="2.05" fill="#fff"/>
<rect x="295.08" y="357.10" width="2.02" height="2.05" fill="#fff"/>
<rect x="332.95" y="357.10" width="1.98" height="2.05" fill="#fff"/>
<rect x="336.37" y="357.10" width="2.02" height="2.05" fill="#fff"/>
<rect x="375.39" y="357.10" width="1.98" height="2.05" fill="#fff"/>
<rect x="378.81" y="357.10" width="2.02" height="2.05" fill="#fff"/>
<rect x="390.06" y="293.11" width="1.98" height="2.05" fill="#fff"/>
<rect x="393.48" y="293.11" width="2.02" height="2.05" fill="#fff"/>
<rect x="390.06" y="279.49" width="1.98" height="2.05" fill="#fff"/>
<rect x="393.48" y="279.49" width="2.02" height="2.05" fill="#fff"/>
<rect x="411.06" y="357.10" width="1.98" height="2.05" fill="#fff"/>
<rect x="414.48" y="357.10" width="2.02" height="2.05" fill="#fff"/>
<rect x="452.10" y="357.10" width="1.98" height="2.05" fill="#fff"/>
<rect x="455.52" y="357.10" width="2.02" height="2.05" fill="#fff"/>
<rect x="494.29" y="357.10" width="1.98" height="2.05" fill="#fff"/>
<rect x="497.71" y="357.10" width="2.02" height="2.05" fill="#fff"/>
<rect x="271.36" y="397.45" width="1.98" height="2.05" fill="#fff"/>
<rect x="274.78" y="397.45" width="2.02" height="2.05" fill="#fff"/>
<rect x="271.36" y="383.79" width="1.98" height="2.05" fill="#fff"/>
<rect x="274.78" y="383.79" width="2.02" height="2.05" fill="#fff"/>
<rect x="292.36" y="461.70" width="1.98" height="2.05" fill="#fff"/>
<rect x="295.78" y="461.70" width="2.02" height="2.05" fill="#fff"/>
<rect x="333.70" y="461.70" width="1.98" height="2.05" fill="#fff"/>
<rect x="337.12" y="461.70" width="2.02" height="2.05" fill="#fff"/>
<rect x="376.19" y="461.70" width="1.98" height="2.05" fill="#fff"/>
<rect x="379.61" y="461.70" width="2.02" height="2.05" fill="#fff"/>
<rect x="377.25" y="381.85" width="2.26" height="2.20" fill="#fff"/>
<rect x="381.15" y="381.85" width="2.28" height="2.20" fill="#fff"/>
<rect x="390.56" y="397.45" width="1.98" height="2.05" fill="#fff"/>
<rect x="393.98" y="397.45" width="2.02" height="2.05" fill="#fff"/>
<rect x="390.56" y="383.79" width="1.98" height="2.05" fill="#fff"/>
<rect x="393.98" y="383.79" width="2.02" height="2.05" fill="#fff"/>
<rect x="411.56" y="461.70" width="1.98" height="2.05" fill="#fff"/>
<rect x="414.98" y="461.70" width="2.02" height="2.05" fill="#fff"/>
<rect x="452.90" y="461.70" width="1.98" height="2.05" fill="#fff"/>
<rect x="456.32" y="461.70" width="2.02" height="2.05" fill="#fff"/>
<rect x="495.39" y="461.70" width="1.98" height="2.05" fill="#fff"/>
<rect x="498.81" y="461.70" width="2.02" height="2.05" fill="#fff"/>
</g>
</svg>
</body></html>
